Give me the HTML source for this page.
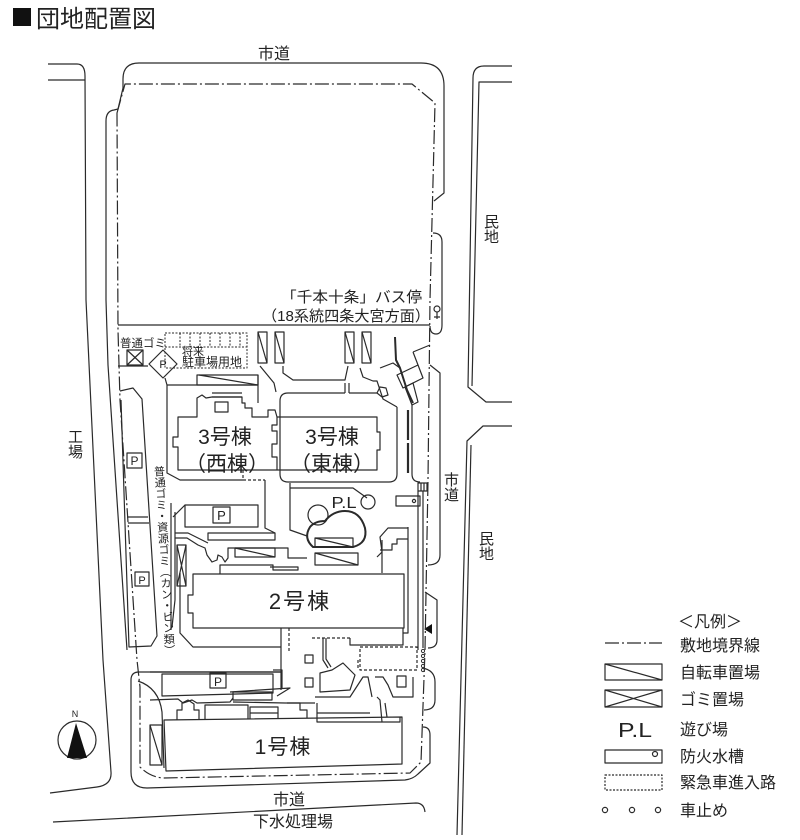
<!DOCTYPE html>
<html><head><meta charset="utf-8">
<style>
html,body{margin:0;padding:0;background:#fff;}
body{width:800px;height:840px;position:relative;overflow:hidden;font-family:"Liberation Sans","Noto Sans CJK JP",sans-serif;color:#222;}
svg{position:absolute;left:0;top:0;}
.vt{position:absolute;writing-mode:vertical-rl;line-height:1;color:#222;font-family:"Liberation Sans","Noto Sans CJK JP",sans-serif;white-space:nowrap;}
</style></head><body>
<svg width="800" height="840" viewBox="0 0 800 840" xmlns="http://www.w3.org/2000/svg" font-family="'Liberation Sans','Noto Sans CJK JP',sans-serif">
<rect width="800" height="840" fill="#fff"/>
<g fill="none" stroke="#2a2a2a" stroke-width="1.2" stroke-linejoin="round">
<!-- west road -->
<path d="M48,64 H77 Q85,64 85,76 L86,300 L103,660 L111,772 Q112,785 97,787 L50,793"/>
<path d="M48,80 H85"/>
<!-- south road lower line -->
<path d="M53,822 L416,803 Q424,803 425,812"/>
<!-- east 民地 blocks -->
<path d="M512,66 H484 Q473,66 473,78 L468,387 L486,402 H512"/>
<path d="M512,82 H479 L472,386"/>
<path d="M512,426 H483 L467,441 L457,835"/>
<path d="M471,445 L462,835"/>
<!-- site outer top & west -->
<path d="M127,650 L108,365 L106,300 V121 Q106,111 114,110 L118,109 L123,88 V79 Q123,63 139,63 H421 Q444,63 444,86 V193 L434,201"/>
<!-- east strip pieces -->
<path d="M433,233 Q442,233 442,242 V325 Q442,334 436,334 Q430,334 430,326"/>
<path d="M430,365 L440,373 V555 Q440,565 428,565"/>
<path d="M425,592 L437,600 V640 Q437,648 428,648"/>
<path d="M422,668 Q435,670 435,682 V700 Q435,710 424,710"/>
<!-- lower block outline -->
<path d="M282,672 H139 Q131,672 131,680 V772 Q131,788 147,788 L405,780 Q413,779 418,774 L430,763 V735 Q430,727 423,727"/>
<!-- dash-dot site boundary -->
<path stroke-dasharray="14 3 2 3" d="M117,113 L125,84 H412 L435,103 L430,300 L428,480 L425,650 L421,762 L410,773 L163,778 Q150,777 140,767 V687 L137,660 L120,400 L118,330 Z"/>
<!-- horizontal line y=325 -->
<path d="M118,325 H430"/>
<!-- gomi box -->
<rect x="127" y="350" width="16" height="15"/>
<path d="M127,350 L143,365 M143,350 L127,365"/>
<path d="M118,366 H148"/>
<!-- diamond P -->
<polygon points="163,350 177,364 163,378 149,364"/>
<!-- 将来駐車場 dashed -->
<g stroke-dasharray="2 1.5" stroke-width="1">
<rect x="165" y="333" width="82" height="35"/>
<path d="M180,333 V347 M190,333 V347 M200,333 V347 M210,333 V347 M220,333 V347 M230,333 V347 M240,333 V347 M165,347 H247"/>
</g>
<!-- bike stands top -->
<rect x="258" y="332" width="9" height="31"/><path d="M258,332 L267,363"/>
<rect x="275" y="332" width="9" height="31"/><path d="M275,332 L284,363"/>
<rect x="345" y="332" width="9" height="31"/><path d="M345,332 L354,363"/>
<rect x="362" y="332" width="9" height="31"/><path d="M362,332 L371,363"/>
<!-- paths near top -->
<path d="M165,378 L167,385 H258"/>
<path d="M167,385 V473 L180,480 H243"/>
<path d="M260,366 L274,383 L276,392"/>
<path d="M283,366 V373 L293,380 H345 L348,366"/>
<path d="M360,368 L363,377 L373,381 H377 L383,399 L397,407"/>
<path d="M345,383 V393 M349,383 V393"/>
<rect x="197" y="375" width="61" height="10"/><path d="M199,375 L258,385"/>
<path d="M258,375 V403"/>
<!-- pentagon -->
<polygon points="380,387 386,388 388,395 382,397 377,393"/>
<!-- shelter right -->
<path stroke-width="2" d="M395,337 L396,360 L400,368 L407,390 L413,403"/>
<path d="M380,368 L393,363 L400,368"/>
<polygon points="397,375 418,365 423,378 403,388"/>
<path d="M413,352 L430,345 M413,352 L418,365"/>
<polygon points="405,387 413,383 418,402 412,405"/>
<path stroke-width="2.2" d="M408,410 V440 M408,443 V473"/>
<path d="M412,405 V474 Q412,482 420,482"/>
<!-- West strip parking -->
<path d="M120,391 L133,388 L142,399 L157,636 L151,646 L129,647 L121,400"/>
<path d="M127,517 H148 M128,523 H149"/>
<rect x="127" y="453" width="15" height="15"/>
<rect x="135" y="572" width="14" height="14"/>
<!-- 3号棟 -->
<path d="M178,417 H197 V398 L202,395 L206,398 L212,397 H242 V403 H245 V408 H252 V417 H268 V410 H275 L277,417 H377 V432 H380 V450 H377 V470 H178 V447 H173 V437 H178 Z"/>
<path d="M277,417 V425 H272 V431 H277 V444 H272 V457 H277 V470"/>
<path d="M212,393 H242 M212,397 H242"/>
<rect x="215" y="402" width="13" height="10"/>
<!-- East building surrounding -->
<path d="M288,482 Q280,482 280,474 V401 Q280,393 288,393 H345 M349,393 H377"/>
<path d="M397,407 V474 Q397,482 389,482 H288"/>
<!-- dashed below west -->
<path stroke-dasharray="3 2" d="M243,470 V480 H265"/>
<path d="M265,480 V528 L275,533"/>
<!-- P lot -->
<rect x="185" y="505" width="73" height="22"/>
<path d="M173,517 L185,505"/>
<rect x="213" y="507" width="17" height="16"/>
<path d="M171,503 V630"/>
<path d="M175,512 V600 L172,627"/>
<rect x="177" y="545" width="9" height="41"/><path d="M177,545 L186,586 M186,545 L177,586"/>
<path d="M175,533 H188 L202,540 L208,543"/>
<rect x="208" y="533" width="67" height="7"/>
<path d="M175,538 H187 L198,545 L205,548 L207,555 L212,562 L217,560 L218,555 L222,557 L225,562 L228,558 V548 H288 V558 H307"/>
<rect x="235" y="548" width="40" height="9"/><path d="M235,548 L275,557"/>
<path d="M220,574 V565 H273 V570 H298 V567 H270"/>
<!-- 2号棟 -->
<path d="M193,574 H404 V628 H193 V613 H188 V595 H193 Z"/>
<path d="M180,573 V633 L193,647 H281"/>
<path d="M382,540 V573"/>
<path d="M408,527 V633 H403"/>
<!-- PL area -->
<path d="M290,483 V530 L307,536"/>
<path d="M290,488 H353 L367,498"/>
<path stroke-width="2" d="M310,527 Q303,538 313,547 H353 Q368,543 365,528 Q360,511 345,511 Q333,511 325,521 Q315,521 310,527 Z"/>
<circle cx="318" cy="515" r="10"/>
<circle cx="368" cy="502" r="7"/>
<rect x="315" y="538" width="38" height="9"/><path d="M315,538 L353,547"/>
<rect x="315" y="553" width="43" height="12"/><path d="M315,553 L358,565"/>
<path d="M377,557 L382,552 L380,537 L388,528 H408 M408,539 H397 V544 H392 V550 H380"/>
<rect x="396" y="496" width="24" height="10"/>
<circle cx="414" cy="501" r="1.6"/>
<rect x="418" y="483" width="9" height="8"/><path d="M421,483 V491 M424,483 V491"/>
<path d="M418,491 V650 M423,491 V648"/>
<!-- between 2 and 1 -->
<path d="M281,628 V690"/>
<path stroke-dasharray="3 2" d="M289,628 V653"/>
<path stroke-dasharray="3 2" d="M312,638 H350"/>
<path d="M350,638 V645 H403 V628"/>
<path stroke-dasharray="3 2" d="M360,647 H417 V670 H360 Z"/>
<path stroke-dasharray="3 2" d="M358,660 V668"/>
<path d="M323,638 V660 L328,668 M326,638 V659 L331,667"/>
<rect x="305" y="655" width="8" height="8"/>
<rect x="305" y="678" width="8" height="9"/>
<rect x="397" y="676" width="9" height="11"/>
<path d="M320,673 L332,670 L343,663 L355,675 L350,690 L320,692 Z"/>
<path d="M315,697 H350 L363,677 H368 L372,697 M375,677 H383 L388,685 L393,697 H413 V677"/>
<path d="M377,697 L380,700 L382,722 H400 V717"/>
<path d="M317,703 V722 H382 M317,713 H370"/>
<!-- lower block: P rect etc -->
<path d="M138,681 Q159,688 162,712 L164,768"/>
<rect x="150" y="725" width="12" height="40"/><path d="M150,725 L162,765"/>
<path d="M162,674 H273 V693 L162,696 Z"/>
<path d="M150,672 H282 M273,670 H282 V688"/>
<rect x="210" y="673" width="16" height="15"/>
<path d="M230,692 L290,688 L277,696"/>
<rect x="233" y="692" width="39" height="8"/>
<path d="M150,700 L178,699 L183,703 L192,700 L197,703 L230,702 L233,698"/>
<path d="M233,702 L285,703 H315"/>
<!-- 1号棟 -->
<path d="M164,720 L402,717 V764 L166,771 Z"/>
<path d="M177,720 V710 H182 V703 L188,700 L194,704 V710 H199 V720"/>
<path d="M205,720 V705 H248 V719"/>
<rect x="250" y="707" width="28" height="6"/>
<path d="M250,713 V719 M278,713 V719"/>
<path d="M287,703 H300 V710 H307 V718"/>
<path d="M385,703 L387,717"/>
<!-- compass -->
<circle cx="77" cy="740" r="19"/>
<!-- legend shapes -->
<path stroke-dasharray="14 3 2 3" d="M605,643 H662"/>
<rect x="605" y="664" width="57" height="16"/><path d="M605,664 L662,680"/>
<rect x="605" y="690" width="57" height="17"/><path d="M605,690 L662,707 M662,690 L605,707"/>
<rect x="605" y="750" width="57" height="13"/>
<circle cx="655" cy="754" r="2.5"/>
<rect x="605" y="775" width="57" height="15" stroke-dasharray="2 1.5"/>
<circle cx="605" cy="810" r="2.6"/>
<circle cx="632" cy="810" r="2.6"/>
<circle cx="658" cy="810" r="2.6"/>
<!-- bus stop symbol -->
<circle cx="437" cy="309" r="3"/>
<path d="M437,312 V319 M434,317 H440"/>
</g>
<!-- 車止め column -->
<g fill="none" stroke="#333" stroke-width="1">
<circle cx="423" cy="651" r="1.6"/><circle cx="423" cy="656" r="1.6"/><circle cx="423" cy="661" r="1.6"/><circle cx="423" cy="666" r="1.6"/><circle cx="423" cy="670" r="1.6"/>
</g>
<!-- triangle marker -->
<polygon points="424,629 432,624 432,634" fill="#111"/>
<!-- compass needle -->
<polygon points="76,723 67,758 87,758" fill="#111"/>
<text x="75" y="717" font-size="9" text-anchor="middle" fill="#222">N</text>

<!-- title square -->
<rect x="13" y="8" width="18" height="18" fill="#111"/>
<!-- text -->
<g fill="#222">
<text x="36" y="27" font-size="24" font-family="'Noto Sans CJK JP',sans-serif">団地配置図</text>
<text x="274" y="59" font-size="16" text-anchor="middle">市道</text>
<text x="281" y="302" font-size="15" textLength="141" lengthAdjust="spacingAndGlyphs">「千本十条」バス停</text>
<text x="262" y="321" font-size="15" textLength="168" lengthAdjust="spacingAndGlyphs">（18系統四条大宮方面）</text>
<text x="120" y="347" font-size="11.5">普通ゴミ</text>
<text x="182" y="355" font-size="11">将来</text>
<text x="182" y="366" font-size="12">駐車場用地</text>
<text x="163" y="368" font-size="11" text-anchor="middle">P</text>
<text x="134.5" y="465" font-size="12" text-anchor="middle">P</text>
<text x="142" y="584" font-size="11" text-anchor="middle">P</text>
<text x="221.5" y="520" font-size="13" text-anchor="middle">P</text>
<text x="218" y="686" font-size="12" text-anchor="middle">P</text>
<text x="225" y="444" font-size="21" text-anchor="middle">3号棟</text>
<text x="227" y="471" font-size="21" text-anchor="middle">（西棟）</text>
<text x="332" y="444" font-size="21" text-anchor="middle">3号棟</text>
<text x="332" y="471" font-size="21" text-anchor="middle">（東棟）</text>
<text x="344" y="508" font-size="16" text-anchor="middle" textLength="25" lengthAdjust="spacingAndGlyphs">P.L</text>
<text x="300" y="609" font-size="22" text-anchor="middle" letter-spacing="2">2号棟</text>
<text x="283" y="754" font-size="21" text-anchor="middle" letter-spacing="1">1号棟</text>
<text x="289" y="805" font-size="16" text-anchor="middle">市道</text>
<text x="293" y="827" font-size="16" text-anchor="middle">下水処理場</text>
<text x="678" y="627" font-size="16">＜凡例＞</text>
<text x="680" y="651" font-size="16">敷地境界線</text>
<text x="680" y="678" font-size="16">自転車置場</text>
<text x="680" y="705" font-size="16">ゴミ置場</text>
<text x="618" y="737" font-size="20" textLength="34" lengthAdjust="spacingAndGlyphs">P.L</text>
<text x="680" y="735" font-size="16">遊び場</text>
<text x="680" y="762" font-size="16">防火水槽</text>
<text x="680" y="788" font-size="16">緊急車進入路</text>
<text x="680" y="816" font-size="16">車止め</text>
</g>
</svg>
<div class="vt" style="left:67px;top:429px;font-size:15px;">工場</div>
<div class="vt" style="left:483px;top:214px;font-size:15px;">民地</div>
<div class="vt" style="left:478px;top:531px;font-size:15px;">民地</div>
<div class="vt" style="left:443px;top:472px;font-size:15px;">市道</div>
<div class="vt" style="left:152px;top:466px;font-size:11.2px;transform:rotate(-3.3deg);transform-origin:0 0;">普通ゴミ・資源ゴミ（カン・ビン類）</div>
</body></html>
